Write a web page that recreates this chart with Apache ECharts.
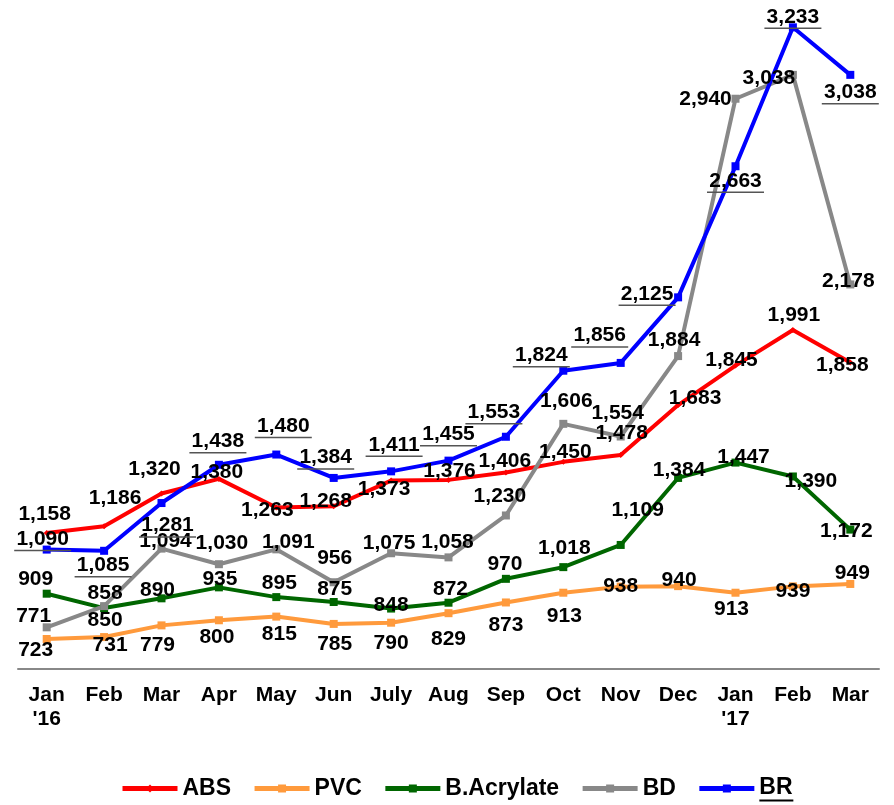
<!DOCTYPE html>
<html>
<head>
<meta charset="utf-8">
<script src="https://cdn.jsdelivr.net/npm/echarts@6/dist/echarts.min.js"></script>
<style>
  html, body { margin: 0; padding: 0; background: #fff; }
  #chart { width: 894px; height: 805px; }
</style>
</head>
<body>
<div id="chart"></div>
<script>
// Monthly prices, Jan 2016 - Mar 2017
const months = ['Jan\n\'16', 'Feb', 'Mar', 'Apr', 'May', 'Jun', 'July', 'Aug', 'Sep', 'Oct', 'Nov', 'Dec', 'Jan\n\'17', 'Feb', 'Mar'];

const absValues = [1158, 1186, 1320, 1380, 1263, 1268, 1373, 1376, 1406, 1450, 1478, 1683, 1845, 1991, 1858];
const pvcValues = [723, 731, 779, 800, 815, 785, 790, 829, 873, 913, 938, 940, 913, 939, 949];
const acrylateValues = [909, 850, 890, 935, 895, 875, 848, 872, 970, 1018, 1109, 1384, 1447, 1390, 1172];
const bdValues = [771, 858, 1094, 1030, 1091, 956, 1075, 1058, 1230, 1606, 1554, 1884, 2940, 3038, 2178];
const brValues = [1090, 1085, 1281, 1438, 1480, 1384, 1411, 1455, 1553, 1824, 1856, 2125, 2663, 3233, 3038];

// Label placement (pixel shift of each value label from its point)
const absShift = [[-2,-19],[11,-28],[-7,-24],[-2,-7],[-9,3],[-8,-5],[-7,9],[1,-9],[-1,-11],[2,-10],[1,-22],[17,-7],[-4,-5],[1,-15],[-8,3]];
const pvcShift = [[-11,11],[6,8],[-4,20],[-2,17],[3,18],[1,20],[0,21],[0,26],[0,23],[1,23],[0,0],[1,-6],[-4,16],[0,5],[2,-11]];
const acrylateShift = [[-11,-14],[1,12],[-4,-8],[1,-8],[3,-14],[1,-13],[0,-3],[2,-14],[-1,-15],[1,-19],[17,-35],[1,-8],[8,-5],[18,5],[-4,2]];
const bdShift = [[-13,-11],[1,-13],[4,-7],[3,-21],[12,-7],[1,-24],[-2,-10],[-1,-15],[-6,-19],[3,-23],[-3,-23],[-4,-16],[-30,0],[-24,3],[-2,-3]];
const brShift = [[-4,-9],[-1,16],[6,24],[-1,-22],[7,-27],[-8,-19],[3,-25],[0,-25],[-12,-23],[-22,-14],[-21,-26],[-31,-2],[0,16],[0,-9],[0,19]];

const fmt = v => v.toLocaleString('en-US');
const FONT = '"Liberation Sans", Arial, sans-serif';
const LABEL_SIZE = 21;
const LEGEND_SIZE = 23;

// Width of a bold string, used to size the underline bars
const measureCtx = document.createElement('canvas').getContext('2d');
function textWidth(str, size) {
  measureCtx.font = 'bold ' + size + 'px ' + FONT;
  return Math.ceil(measureCtx.measureText(str).width);
}

function makeSeries(name, values, shifts, color, symbol, symbolSize, underline) {
  return {
    name: name,
    type: 'line',
    data: values.map((v, i) => ({ value: v, label: { offset: shifts[i] } })),
    symbol: symbol,
    symbolSize: symbolSize,
    showAllSymbol: true,
    lineStyle: { color: color, width: 4 },
    itemStyle: { color: color },
    emphasis: { disabled: true },
    animation: false,
    label: {
      show: true,
      position: 'inside',
      color: '#000',
      fontFamily: FONT,
      fontWeight: 'bold',
      fontSize: LABEL_SIZE,
      formatter: underline
        ? p => '{v|' + fmt(p.value) + '}\n{u|}'
        : p => fmt(p.value),
      rich: underline ? {
        v: { fontFamily: FONT, fontWeight: 'bold', fontSize: LABEL_SIZE, color: '#000', lineHeight: 20 },
        u: { width: textWidth('1,090', LABEL_SIZE) + 4, height: 1.5, backgroundColor: '#555', lineHeight: 3 }
      } : undefined
    }
  };
}

const chart = echarts.init(document.getElementById('chart'), null, { renderer: 'canvas' });

chart.setOption({
  backgroundColor: '#fff',
  animation: false,
  grid: { left: 18, right: 15, top: 11, bottom: 136, containLabel: false },
  legend: {
    left: 115,
    top: 771,
    itemWidth: 55,
    itemHeight: 10,
    itemGap: 21,
    selectedMode: false,
    lineStyle: { width: 5 },
    formatter: name => name === 'BR' ? '{b|BR}\n{l|}' : name,
    textStyle: {
      fontFamily: FONT, fontWeight: 'bold', fontSize: LEGEND_SIZE, color: '#000',
      rich: {
        b: { fontFamily: FONT, fontWeight: 'bold', fontSize: LEGEND_SIZE, color: '#000', lineHeight: 24 },
        l: { width: textWidth('BR', LEGEND_SIZE), height: 2, backgroundColor: '#000', lineHeight: 2 }
      }
    },
    data: ['ABS', 'PVC', 'B.Acrylate', 'BD', 'BR']
  },
  xAxis: {
    type: 'category',
    data: months,
    boundaryGap: true,
    axisLine: { show: true, lineStyle: { color: '#888', width: 2 } },
    axisTick: { show: false },
    axisLabel: {
      interval: 0,
      margin: 14,
      color: '#000',
      fontFamily: FONT,
      fontWeight: 'bold',
      fontSize: 21,
      lineHeight: 24
    },
    splitLine: { show: false }
  },
  yAxis: {
    type: 'value',
    min: 600,
    max: 3300,
    show: false,
    splitLine: { show: false }
  },
  series: [
    makeSeries('ABS', absValues, absShift, '#ff0000', 'diamond', 6, false),
    makeSeries('PVC', pvcValues, pvcShift, '#ff9a3c', 'rect', 8, false),
    makeSeries('B.Acrylate', acrylateValues, acrylateShift, '#006600', 'rect', 8, false),
    makeSeries('BD', bdValues, bdShift, '#888888', 'rect', 8, false),
    makeSeries('BR', brValues, brShift, '#0000ff', 'rect', 8, true)
  ]
});
</script>
</body>
</html>
